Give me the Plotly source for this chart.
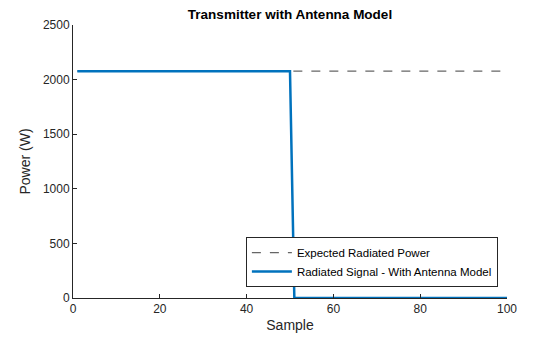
import plotly.graph_objects as go

samples = list(range(1, 101))
expected_power = [2077] * 100
radiated_power = [2077] * 50 + [0] * 50

FONT = "Liberation Sans, Arial"

fig = go.Figure()
fig.add_trace(go.Scatter(x=samples, y=expected_power, mode="lines",
                         name="Expected Radiated Power",
                         line=dict(color="#666666", width=1.3, dash="dash")))
fig.add_trace(go.Scatter(x=samples, y=radiated_power, mode="lines",
                         name="Radiated Signal - With Antenna Model",
                         line=dict(color="#0072BD", width=2.5)))

axis_common = dict(showgrid=False, zeroline=False, showline=True, linecolor="#262626",
                   linewidth=1, ticks="inside", ticklen=4, tickcolor="#262626",
                   tickfont=dict(family=FONT, size=12, color="#262626"),
                   mirror=False, automargin=False)
fig.update_xaxes(range=[0, 100], tickvals=[0, 20, 40, 60, 80, 100],
                 title=dict(text="Sample", font=dict(family=FONT, size=14, color="#262626"), standoff=4),
                 **axis_common)
fig.update_yaxes(range=[0, 2500], tickvals=[0, 500, 1000, 1500, 2000, 2500],
                 title=dict(text="Power (W)", font=dict(family=FONT, size=14, color="#262626"), standoff=8),
                 **axis_common)

fig.update_layout(
    width=560, height=337,
    paper_bgcolor="white", plot_bgcolor="white",
    margin=dict(l=73, r=53, t=25, b=39),
    title=dict(text="<b>Transmitter with Antenna Model</b>", x=0.5, xanchor="center",
               y=1 - 14 / 337, yanchor="middle", xref="paper",
               font=dict(family=FONT, size=13.5, color="#000000")),
    showlegend=True,
    legend=dict(x=0.979, y=0.04, xanchor="right", yanchor="bottom",
                bgcolor="white", bordercolor="#262626", borderwidth=1,
                font=dict(family=FONT, size=11.5, color="#000000"),
                tracegroupgap=0, itemwidth=40),
)

fig.write_html("out.html")
